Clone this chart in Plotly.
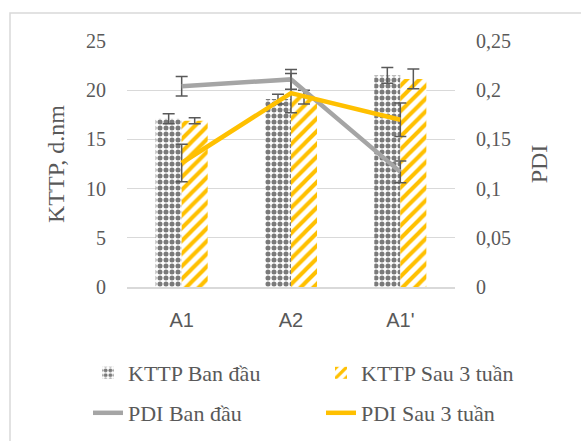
import plotly.graph_objects as go

categories = ["A1", "A2", "A1'"]
kttp_ban_dau = [17.1, 19.1, 21.5]
kttp_ban_dau_err = [0.5, 0.5, 0.8]
kttp_sau = [16.9, 19.3, 21.15]
kttp_sau_err = [0.3, 0.7, 1.0]
pdi_ban_dau = [0.204, 0.211, 0.117]
pdi_ban_dau_err = [0.010, 0.010, 0.011]
pdi_sau = [0.126, 0.197, 0.170]
pdi_sau_err = [0.019, 0.020, 0.017]

left_ticks = [0, 5, 10, 15, 20, 25]
right_ticks = [0, 0.05, 0.1, 0.15, 0.2, 0.25]

GRAY_TXT = "#595959"
SERIF = "Liberation Serif"
err_style = dict(type="data", color="#595959", thickness=1.5, width=6)

fig = go.Figure()
fig.add_trace(go.Bar(
    x=categories, y=kttp_ban_dau, name="KTTP Ban đầu",
    error_y=dict(array=kttp_ban_dau_err, **err_style),
    marker=dict(color="white", line=dict(width=0),
                pattern=dict(shape=".", fgcolor="#7A7A7A", bgcolor="white",
                             size=6, solidity=0.55, fillmode="replace")),
    legend="legend", showlegend=True,
))
fig.add_trace(go.Bar(
    x=categories, y=kttp_sau, name="KTTP Sau 3 tuần",
    error_y=dict(array=kttp_sau_err, **err_style),
    marker=dict(color="white", line=dict(width=0),
                pattern=dict(shape="/", fgcolor="#FFC000", bgcolor="white",
                             size=9, solidity=0.45, fillmode="replace")),
    legend="legend2", showlegend=True,
))
fig.add_trace(go.Scatter(
    x=categories, y=pdi_ban_dau, name="PDI Ban đầu", yaxis="y2", mode="lines",
    line=dict(color="#A5A5A5", width=4.5),
    error_y=dict(array=pdi_ban_dau_err, **err_style),
    legend="legend3", showlegend=True,
))
fig.add_trace(go.Scatter(
    x=categories, y=pdi_sau, name="PDI Sau 3 tuần", yaxis="y2", mode="lines",
    line=dict(color="#FFC000", width=4.5),
    error_y=dict(array=pdi_sau_err, **err_style),
    legend="legend4", showlegend=True,
))

L, R, T, B = 127, 126, 41, 154
W, H = 581, 441
pw, ph = W - L - R, H - T - B

def px_x(x):
    return (x - L) / pw

def px_y(y):
    return (H - B - y) / ph

def legend_at(xpx, ypx):
    return dict(x=px_x(xpx), xanchor="left", y=px_y(ypx), yanchor="middle",
                font=dict(family=SERIF, size=22, color=GRAY_TXT),
                bgcolor="rgba(0,0,0,0)", borderwidth=0, visible=True)

fig.update_layout(
    width=W, height=H,
    showlegend=True,
    margin=dict(l=L, r=R, t=T, b=B, autoexpand=False),
    paper_bgcolor="white", plot_bgcolor="white",
    separators=", ",
    barmode="group", bargap=0.524, bargroupgap=0,
    font=dict(family=SERIF, size=20, color=GRAY_TXT),
    xaxis=dict(
        showline=True, linecolor="#D9D9D9", linewidth=1.5,
        tickfont=dict(family="Liberation Sans", size=20, color=GRAY_TXT),
        ticks="", ticklabelstandoff=14,
    ),
    yaxis=dict(
        range=[0, 25], tickvals=left_ticks, showgrid=True, gridcolor="#D9D9D9",
        gridwidth=1, zeroline=False, showline=False, ticks="",
        tickfont=dict(family=SERIF, size=20, color=GRAY_TXT),
        ticklabelstandoff=20, automargin=False,
        title=dict(text="KTTP, d.nm", font=dict(family=SERIF, size=24, color=GRAY_TXT),
                   standoff=14),
    ),
    yaxis2=dict(
        range=[0, 0.25], tickvals=right_ticks, overlaying="y", side="right",
        showgrid=False, zeroline=False, showline=False, ticks="",
        tickfont=dict(family=SERIF, size=20, color=GRAY_TXT),
        ticklabelstandoff=20, automargin=False,
        title=dict(text="PDI", font=dict(family=SERIF, size=24, color=GRAY_TXT),
                   standoff=20),
    ),
    legend=legend_at(88, 373),
    legend2=legend_at(321, 373),
    legend3=legend_at(88, 413),
    legend4=legend_at(321, 413),
    shapes=[dict(type="rect", xref="paper", yref="paper",
                 x0=px_x(10), x1=px_x(620), y0=px_y(480), y1=px_y(13),
                 line=dict(color="#D9D9D9", width=1.5), fillcolor="rgba(0,0,0,0)",
                 layer="below")],
)

fig.write_html("out.html")
